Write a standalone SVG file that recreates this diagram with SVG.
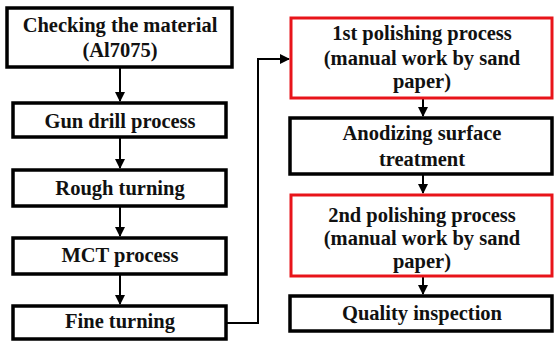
<svg xmlns="http://www.w3.org/2000/svg" width="555" height="341" viewBox="0 0 555 341">
<style>
.box{fill:#fff;stroke:#000;stroke-width:3.5}
.red{fill:#fff;stroke:#e8141a;stroke-width:3}
.c{fill:none;stroke:#000;stroke-width:2}
</style>
<defs>
<marker id="ah" markerWidth="10" markerHeight="10" refX="9" refY="5" orient="auto" markerUnits="userSpaceOnUse">
<path d="M0,0 L10,5 L0,10 Z" fill="#000"/>
</marker>
</defs>
<rect width="555" height="341" fill="#fff"/>
<g id="connectors">
<line class="c" x1="120" y1="67" x2="120" y2="101" marker-end="url(#ah)"/>
<line class="c" x1="120" y1="137" x2="120" y2="168" marker-end="url(#ah)"/>
<line class="c" x1="120" y1="206" x2="120" y2="236" marker-end="url(#ah)"/>
<line class="c" x1="120" y1="274" x2="120" y2="304" marker-end="url(#ah)"/>
<polyline class="c" points="226,323 258,323 258,59 289,59" marker-end="url(#ah)"/>
<line class="c" x1="423" y1="98" x2="423" y2="116" marker-end="url(#ah)"/>
<line class="c" x1="423" y1="174" x2="423" y2="193" marker-end="url(#ah)"/>
<line class="c" x1="423" y1="276" x2="423" y2="294" marker-end="url(#ah)"/>
</g>
<g font-family="Liberation Serif" font-weight="bold" font-size="20.5" fill="#111" text-anchor="middle">
<g id="n1"><rect class="box" x="7" y="8" width="225" height="59"/><text x="120" y="32">Checking the material</text><text x="120" y="57">(Al7075)</text></g>
<g id="n2"><rect class="box" x="13" y="103" width="213" height="34"/><text x="120" y="128">Gun drill process</text></g>
<g id="n3"><rect class="box" x="13" y="170" width="213" height="36"/><text x="120" y="195">Rough turning</text></g>
<g id="n4"><rect class="box" x="13" y="238" width="213" height="36"/><text x="120" y="262">MCT process</text></g>
<g id="n5"><rect class="box" x="13" y="306" width="213" height="33"/><text x="120" y="328">Fine turning</text></g>
<g id="n6"><rect class="red" x="291" y="18" width="261" height="80"/><text x="422" y="40">1st polishing process</text><text x="422" y="65">(manual work by sand</text><text x="422" y="88">paper)</text></g>
<g id="n7"><rect class="box" x="290" y="118" width="262" height="56"/><text x="422" y="140">Anodizing surface</text><text x="422" y="166">treatment</text></g>
<g id="n8"><rect class="red" x="291" y="195" width="261" height="81"/><text x="422" y="222">2nd polishing process</text><text x="422" y="245">(manual work by sand</text><text x="422" y="268">paper)</text></g>
<g id="n9"><rect class="box" x="290" y="296" width="262" height="35"/><text x="422" y="320">Quality inspection</text></g>
</g>
</svg>
